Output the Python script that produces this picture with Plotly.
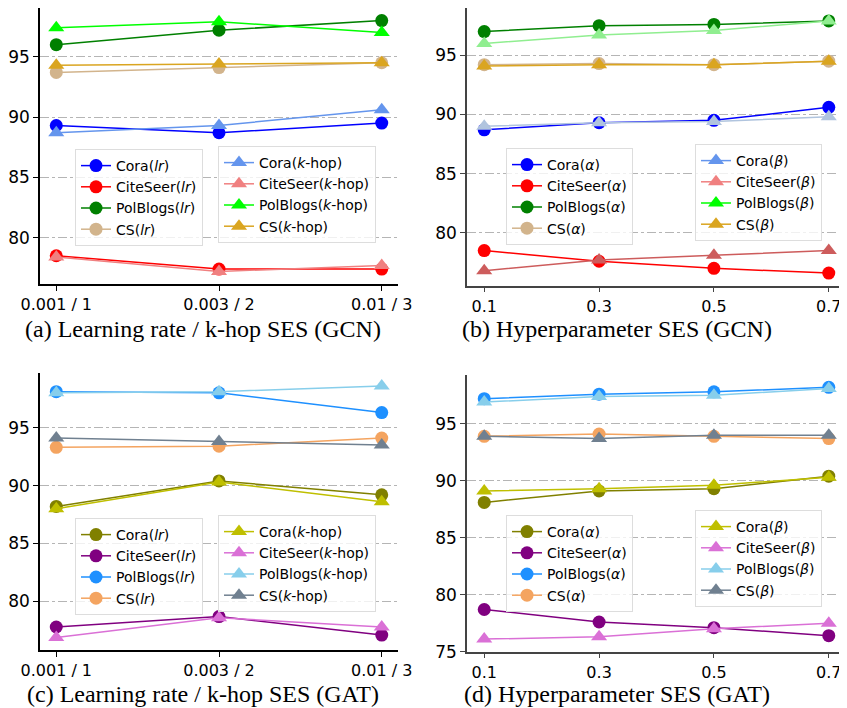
import plotly.graph_objects as go

W, H = 847, 708
OFF = 8  # page body margin in the browser
FW, FH = W - OFF, H - OFF

# ---------------- data ----------------
lr_ticks = ["0.001 / 1", "0.003 / 2", "0.01 / 3"]
lr_pos = [0, 1, 2]
hp_x = [0.1, 0.3, 0.5, 0.7]
hp_text = ["0.1", "0.3", "0.5", "0.7"]
datasets = ["Cora", "CiteSeer", "PolBlogs", "CS"]

# (a) GCN: learning rate / k-hop
gcn_lr = {
    "Cora": [89.3, 88.7, 89.5],
    "CiteSeer": [78.5, 77.4, 77.4],
    "PolBlogs": [96.0, 97.2, 98.0],
    "CS": [93.7, 94.1, 94.5],
}
gcn_khop = {
    "Cora": [88.7, 89.3, 90.6],
    "CiteSeer": [78.4, 77.2, 77.7],
    "PolBlogs": [97.4, 97.9, 97.0],
    "CS": [94.3, 94.4, 94.5],
}
# (b) GCN: alpha / beta
gcn_alpha = {
    "Cora": [88.7, 89.3, 89.5, 90.6],
    "CiteSeer": [78.5, 77.6, 77.0, 76.6],
    "PolBlogs": [97.0, 97.5, 97.6, 97.9],
    "CS": [94.2, 94.3, 94.2, 94.5],
}
gcn_beta = {
    "Cora": [89.0, 89.3, 89.4, 89.8],
    "CiteSeer": [76.8, 77.7, 78.1, 78.5],
    "PolBlogs": [96.0, 96.7, 97.1, 97.9],
    "CS": [94.1, 94.2, 94.2, 94.5],
}
# (c) GAT: learning rate / k-hop
gat_lr = {
    "Cora": [88.2, 90.4, 89.2],
    "CiteSeer": [77.8, 78.7, 77.1],
    "PolBlogs": [98.1, 98.0, 96.3],
    "CS": [93.3, 93.4, 94.1],
}
gat_khop = {
    "Cora": [88.0, 90.3, 88.6],
    "CiteSeer": [76.9, 78.6, 77.8],
    "PolBlogs": [98.0, 98.1, 98.6],
    "CS": [94.1, 93.8, 93.5],
}
# (d) GAT: alpha / beta
gat_alpha = {
    "Cora": [88.1, 89.1, 89.3, 90.4],
    "CiteSeer": [78.7, 77.6, 77.1, 76.4],
    "PolBlogs": [97.2, 97.6, 97.8, 98.2],
    "CS": [93.9, 94.1, 93.9, 93.7],
}
gat_beta = {
    "Cora": [89.1, 89.3, 89.6, 90.3],
    "CiteSeer": [76.1, 76.3, 77.0, 77.5],
    "PolBlogs": [96.9, 97.4, 97.5, 98.1],
    "CS": [93.9, 93.7, 94.0, 94.0],
}

captions = [
    "(a) Learning rate / k-hop SES (GCN)",
    "(b) Hyperparameter SES (GCN)",
    "(c) Learning rate / k-hop SES (GAT)",
    "(d) Hyperparameter SES (GAT)",
]

# ---------------- styles ----------------
gcn_c1 = {"Cora": "#0000ff", "CiteSeer": "#ff0000", "PolBlogs": "#008000", "CS": "#d2b48c"}
gcn_c2 = {"Cora": "#6495ed", "CiteSeer": "#f08080", "PolBlogs": "#00ff00", "CS": "#daa520"}
gcn_c2_plot_b = {"Cora": "#b0c4de", "CiteSeer": "#cd5c5c", "PolBlogs": "#90ee90", "CS": "#daa520"}
gat_c1 = {"Cora": "#808000", "CiteSeer": "#800080", "PolBlogs": "#1e90ff", "CS": "#f4a460"}
gat_c2 = {"Cora": "#bfbf00", "CiteSeer": "#da70d6", "PolBlogs": "#87ceeb", "CS": "#708090"}

def px_x(p):
    return (p - OFF) / FW

def px_y(p):
    return 1 - (p - OFF) / FH

fig = go.Figure()

panels = [
    dict(ax="x", ay="y", x=lr_pos, s1=gcn_lr, s2=gcn_khop, c1=gcn_c1, c2=gcn_c2, c2p=gcn_c2,
         l1="<i>lr</i>", l2="<i>k</i>-hop", lg=("legend", "legend2")),
    dict(ax="x2", ay="y2", x=hp_x, s1=gcn_alpha, s2=gcn_beta, c1=gcn_c1, c2=gcn_c2, c2p=gcn_c2_plot_b,
         l1="<i>α</i>", l2="<i>β</i>", lg=("legend3", "legend4")),
    dict(ax="x3", ay="y3", x=lr_pos, s1=gat_lr, s2=gat_khop, c1=gat_c1, c2=gat_c2, c2p=gat_c2,
         l1="<i>lr</i>", l2="<i>k</i>-hop", lg=("legend5", "legend6")),
    dict(ax="x4", ay="y4", x=hp_x, s1=gat_alpha, s2=gat_beta, c1=gat_c1, c2=gat_c2, c2p=gat_c2,
         l1="<i>α</i>", l2="<i>β</i>", lg=("legend7", "legend8")),
]

MS = 13
LW = 1.5
for p in panels:
    for d in datasets:
        fig.add_trace(go.Scatter(
            x=p["x"], y=p["s1"][d], xaxis=p["ax"], yaxis=p["ay"],
            mode="lines+markers", name=f"{d}({p['l1']})",
            line=dict(color=p["c1"][d], width=LW),
            marker=dict(symbol="circle", size=MS, color=p["c1"][d]),
            legend=p["lg"][0]))
    for d in datasets:
        same = p["c2"][d] == p["c2p"][d]
        fig.add_trace(go.Scatter(
            x=p["x"], y=p["s2"][d], xaxis=p["ax"], yaxis=p["ay"],
            mode="lines+markers", name=f"{d}({p['l2']})",
            line=dict(color=p["c2p"][d], width=LW),
            marker=dict(symbol="triangle-up", size=MS + 1, color=p["c2p"][d]),
            legend=p["lg"][1], showlegend=same))
        if not same:
            fig.add_trace(go.Scatter(
                x=[None], y=[None], xaxis=p["ax"], yaxis=p["ay"],
                mode="lines+markers", name=f"{d}({p['l2']})",
                line=dict(color=p["c2"][d], width=LW),
                marker=dict(symbol="triangle-up", size=MS + 1, color=p["c2"][d]),
                legend=p["lg"][1]))

ytickfont = dict(family="DejaVu Sans", size=17, color="black")
xtickfont = dict(family="DejaVu Sans", size=16, color="black")

def yax(dom, rng, lc, anchor):
    return dict(domain=dom, range=rng, tickvals=[75, 80, 85, 90, 95], showline=True,
                linecolor=lc, linewidth=1.5, ticks="outside", ticklen=5, tickwidth=1.2,
                tickcolor=lc, showgrid=True, gridcolor="#b5b5b5", griddash="dashdot",
                gridwidth=1, zeroline=False, tickfont=ytickfont, anchor=anchor,
                automargin=False)

def xax(dom, rng, vals, text, anchor, lc):
    return dict(domain=dom, range=rng, tickvals=vals, ticktext=text, showline=True,
                linecolor=lc, linewidth=1.5, ticks="outside", ticklen=5, tickwidth=1.2,
                tickcolor=lc, showgrid=False, zeroline=False, tickfont=xtickfont, anchor=anchor,
                automargin=False)

fig.update_layout(
    xaxis=xax([px_x(40), px_x(398)], [-0.1, 2.1], lr_pos, lr_ticks, "y", "black"),
    yaxis=yax([px_y(284), px_y(8)], [76.16, 99.04], "black", "x"),
    xaxis2=xax([px_x(467), px_x(846)], [0.07, 0.73], hp_x, hp_text, "y2", "#444"),
    yaxis2=yax([px_y(285.7), px_y(8.3)], [75.535, 98.965], "#444", "x2"),
    xaxis3=xax([px_x(40), px_x(398)], [-0.1, 2.1], lr_pos, lr_ticks, "y3", "black"),
    yaxis3=yax([px_y(650), px_y(373.3)], [75.815, 99.685], "black", "x3"),
    xaxis4=xax([px_x(467), px_x(846)], [0.07, 0.73], hp_x, hp_text, "y4", "#444"),
    yaxis4=yax([px_y(651.7), px_y(374.7)], [74.995, 99.305], "#444", "x4"),
)

legfont = dict(family="DejaVu Sans", size=14, color="black")
leg_pos = {
    "legend": (75, 149), "legend2": (218, 146),
    "legend3": (506, 148), "legend4": (695, 144),
    "legend5": (75, 518), "legend6": (218, 515),
    "legend7": (506, 515), "legend8": (695, 510),
}
for name, (lx, ly) in leg_pos.items():
    fig.update_layout({name: dict(x=px_x(lx), y=px_y(ly), xanchor="left", yanchor="top",
                                  xref="paper", yref="paper",
                                  bgcolor="rgba(255,255,255,0.8)", bordercolor="#dddddd",
                                  borderwidth=1, font=legfont, itemwidth=30,
                                  tracegroupgap=0)})

cap_pos = [(203, 329), (617, 329), (203, 694), (617, 694)]
for text, (cx, cy) in zip(captions, cap_pos):
    fig.add_annotation(text=text, x=px_x(cx), y=px_y(cy), xref="paper", yref="paper",
                       showarrow=False, xanchor="center", yanchor="middle",
                       font=dict(family="Liberation Serif", size=24, color="black"))

fig.update_layout(width=FW, height=FH, margin=dict(l=0, r=0, t=0, b=0),
                  plot_bgcolor="white", paper_bgcolor="white", showlegend=True)

fig.write_html("out.html")
